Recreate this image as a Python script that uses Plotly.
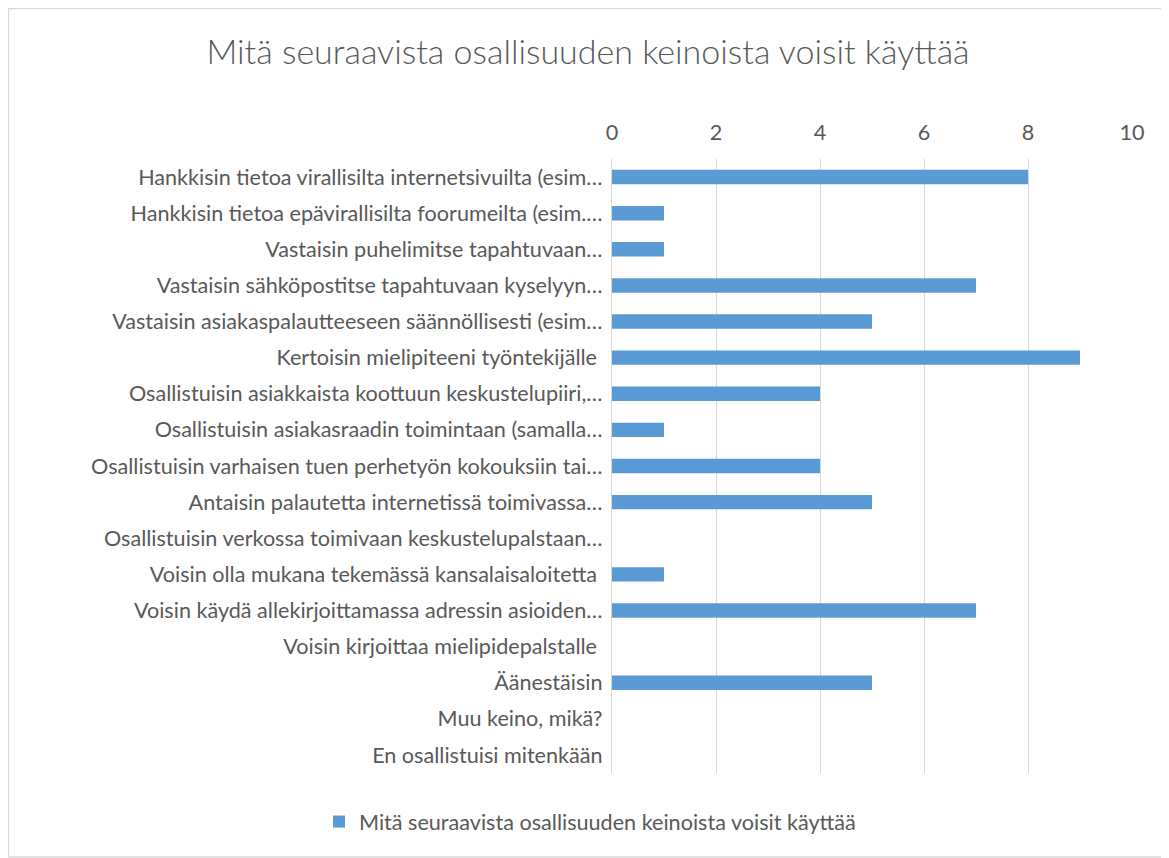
import plotly.graph_objects as go

categories = [
    "Hankkisin tietoa virallisilta internetsivuilta (esim…",
    "Hankkisin tietoa epävirallisilta foorumeilta (esim.…",
    "Vastaisin puhelimitse tapahtuvaan…",
    "Vastaisin sähköpostitse tapahtuvaan kyselyyn…",
    "Vastaisin asiakaspalautteeseen säännöllisesti (esim…",
    "Kertoisin mielipiteeni työntekijälle ",
    "Osallistuisin asiakkaista koottuun keskustelupiiri,…",
    "Osallistuisin asiakasraadin toimintaan (samalla…",
    "Osallistuisin varhaisen tuen perhetyön kokouksiin tai…",
    "Antaisin palautetta internetissä toimivassa…",
    "Osallistuisin verkossa toimivaan keskustelupalstaan…",
    "Voisin olla mukana tekemässä kansalaisaloitetta ",
    "Voisin käydä allekirjoittamassa adressin asioiden…",
    "Voisin kirjoittaa mielipidepalstalle ",
    "Äänestäisin",
    "Muu keino, mikä?",
    "En osallistuisi mitenkään",
]
values = [8, 1, 1, 7, 5, 9, 4, 1, 4, 5, 0, 1, 7, 0, 5, 0, 0]
series_name = "Mitä seuraavista osallisuuden keinoista voisit käyttää"
x_ticks = [0, 2, 4, 6, 8, 10]

OFF = 8  # page body margin
W, H = 1169 - OFF, 858 - OFF
L, R, T, B = 612 - OFF, 1132 - OFF, 159 - OFF, 773 - OFF

fig = go.Figure()
fig.add_trace(go.Bar(
    y=categories, x=values, orientation="h", name=series_name,
    marker=dict(color="#5b9bd5", line=dict(width=0)),
    showlegend=True,
))

font = "Lato, 'Open Sans', sans-serif"
fig.update_layout(
    width=W, height=H,
    margin=dict(l=L, r=W - R, t=T, b=H - B, pad=0),
    paper_bgcolor="white", plot_bgcolor="white",
    font=dict(family=font, size=21.6, color="#595959"),
    title=dict(text=series_name, x=(588 - OFF) / W, xref="container", xanchor="center",
               y=1 - (52 - OFF) / H, yref="container", yanchor="middle",
               font=dict(size=34, color="#595959", family=font, weight=300)),
    bargap=0.6,
    showlegend=True,
    legend=dict(orientation="h", x=(590 - OFF) / W, xanchor="center", xref="container",
                y=1 - (822 - OFF) / H, yanchor="middle", yref="container",
                itemwidth=30,
                font=dict(size=21.6, color="#595959")),
    xaxis=dict(side="top", range=[0, 10], tickvals=x_ticks, showgrid=True,
               gridcolor="#d9d9d9", gridwidth=1.3, zeroline=False, showline=False,
               ticks="", ticklabelstandoff=14, fixedrange=True),
    yaxis=dict(autorange="reversed", type="category", showgrid=False,
               showline=True, linecolor="#d9d9d9", linewidth=1.3,
               ticks="", ticklabelstandoff=4),
)
fig.add_shape(type="rect", xref="paper", yref="paper",
              x0=(0.5 - L) / (R - L), x1=(W - 6 - L) / (R - L),
              y0=(B - (H - 1)) / (B - T), y1=(B - 0.5) / (B - T),
              line=dict(color="#d9d9d9", width=1.3), fillcolor="rgba(0,0,0,0)",
              layer="below")
fig.write_html("out.html")
